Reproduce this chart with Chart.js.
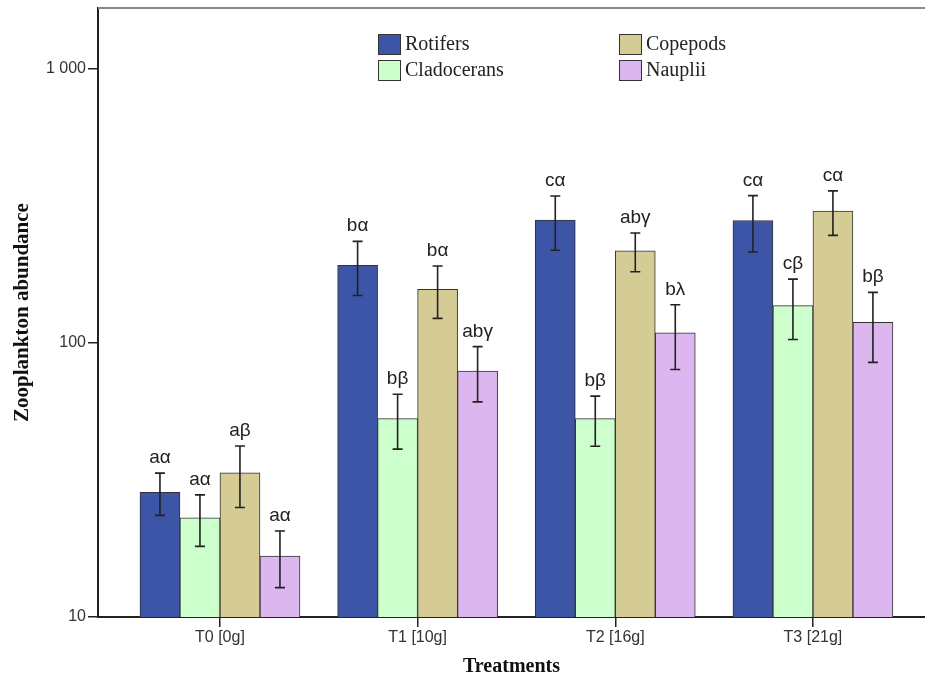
<!DOCTYPE html>
<html>
<head>
<meta charset="utf-8">
<script src="https://cdn.jsdelivr.net/npm/chart.js@4"></script>
<style>
body{margin:0;background:#fff;}
#wrap{width:925px;height:679px;position:relative;}
</style>
</head>
<body>
<div id="wrap"><canvas id="chart"></canvas></div>
<script>
const treatments=["T0 [0g]","T1 [10g]","T2 [16g]","T3 [21g]"];
const seriesNames=["Rotifers","Cladocerans","Copepods","Nauplii"];

const rotifers=[28.5,192,281,280];
const cladocerans=[23,53,53,137];
const copepods=[33.6,157,217,303];
const nauplii=[16.7,79,109,119];

const rotifersErr=[5,43,63,65];
const cladoceransErr=[4.9,12,11,34];
const copepodsErr=[8.5,34,35,56];
const naupliiErr=[3.9,18,29,34];

const rotifersTags=["aα","bα","cα","cα"];
const cladoceransTags=["aα","bβ","bβ","cβ"];
const copepodsTags=["aβ","bα","abγ","cα"];
const naupliiTags=["aα","abγ","bλ","bβ"];

const yTicks=[10,100,1000];
const yTickLabels=["10","100","1 000"];

const colors=["#3c55a6","#ccffcc","#d4cc94","#dcb6ee"];

const values=[rotifers,cladocerans,copepods,nauplii];
const errors=[rotifersErr,cladoceransErr,copepodsErr,naupliiErr];
const tags=[rotifersTags,cladoceransTags,copepodsTags,naupliiTags];

const sans="'Liberation Sans', Arial, sans-serif";
const serif="'Liberation Serif', 'Times New Roman', serif";

const errorBars={
    id:"errorBars",
    afterDatasetsDraw(chart){
        const ctx=chart.ctx;
        const y=chart.scales.y;
        ctx.save();
        ctx.strokeStyle="#222";
        ctx.lineWidth=1.6;
        ctx.fillStyle="#222";
        ctx.font="19px "+sans;
        ctx.textAlign="center";
        ctx.textBaseline="alphabetic";
        chart.data.datasets.forEach((ds,di)=>{
            const meta=chart.getDatasetMeta(di);
            meta.data.forEach((bar,i)=>{
                const v=values[di][i];
                const e=errors[di][i];
                const top=y.getPixelForValue(v+e);
                const bot=y.getPixelForValue(v-e);
                const x=bar.x;
                ctx.beginPath();
                ctx.moveTo(x,top);
                ctx.lineTo(x,bot);
                ctx.moveTo(x-5,top);
                ctx.lineTo(x+5,top);
                ctx.moveTo(x-5,bot);
                ctx.lineTo(x+5,bot);
                ctx.stroke();
                ctx.fillText(tags[di][i],x,top-10);
            });
        });
        ctx.restore();
    }
};

const frameAndLegend={
    id:"frameAndLegend",
    afterDraw(chart){
        const ctx=chart.ctx;
        const a=chart.chartArea;
        ctx.save();
        ctx.strokeStyle="#888";
        ctx.lineWidth=2;
        ctx.beginPath();
        ctx.moveTo(a.left,a.top);
        ctx.lineTo(a.right,a.top);
        ctx.stroke();
        ctx.font="20px "+serif;
        ctx.textBaseline="middle";
        ctx.textAlign="left";
        chart.data.datasets.forEach((ds,di)=>{
            const col=Math.floor(di/2);
            const row=di%2;
            const bx=a.left+280+col*241;
            const by=a.top+26+row*26;
            ctx.fillStyle=ds.backgroundColor;
            ctx.fillRect(bx,by,23,21);
            ctx.strokeStyle="#333";
            ctx.lineWidth=1;
            ctx.strokeRect(bx+0.5,by+0.5,22,20);
            ctx.fillStyle="#222";
            ctx.fillText(ds.label,bx+27,by+11);
        });
        ctx.restore();
    }
};

new Chart(document.getElementById("chart"),{
    type:"bar",
    data:{
        datasets:seriesNames.map((name,di)=>({
            label:name,
            data:values[di].map((v,i)=>({x:i,y:v})),
            backgroundColor:colors[di],
            borderColor:"#333",
            borderWidth:1,
            barThickness:40
        }))
    },
    options:{
        responsive:true,
        maintainAspectRatio:false,
        animation:false,
        layout:{
            padding:{top:8,right:0,left:0,bottom:0}
        },
        plugins:{
            legend:{display:false},
            tooltip:{enabled:false}
        },
        scales:{
            x:{
                type:"linear",
                offset:false,
                min:-0.617,
                max:3.567,
                afterBuildTicks:s=>{
                    s.ticks=treatments.map((t,i)=>({value:i}));
                },
                afterFit:s=>{
                    s.height=62;
                    s.paddingLeft=0;
                    s.paddingRight=0;
                },
                ticks:{
                    callback:v=>treatments[v],
                    font:{family:sans,size:16},
                    color:"#333",
                    padding:1,
                    maxRotation:0
                },
                grid:{
                    offset:false,
                    drawOnChartArea:false,
                    drawTicks:true,
                    tickLength:10,
                    color:"#222",
                    lineWidth:1.5
                },
                border:{color:"#222",width:2},
                title:{
                    display:true,
                    text:"Treatments",
                    font:{family:serif,size:20,weight:"bold"},
                    color:"#111",
                    padding:{top:0,bottom:0}
                }
            },
            y:{
                type:"logarithmic",
                min:10,
                max:1670,
                afterBuildTicks:s=>{
                    s.ticks=yTicks.map(v=>({value:v}));
                },
                afterFit:s=>{
                    s.width=98;
                    s.paddingTop=0;
                    s.paddingBottom=0;
                },
                ticks:{
                    callback:(v)=>yTickLabels[yTicks.indexOf(v)],
                    font:{family:sans,size:16},
                    color:"#333",
                    padding:2
                },
                grid:{
                    drawOnChartArea:false,
                    drawTicks:true,
                    tickLength:10,
                    color:"#222",
                    lineWidth:1.5
                },
                border:{color:"#222",width:2},
                title:{
                    display:true,
                    text:"Zooplankton abundance",
                    font:{family:serif,size:21,weight:"bold"},
                    color:"#111",
                    padding:{top:10,bottom:0}
                }
            }
        }
    },
    plugins:[errorBars,frameAndLegend]
});
</script>
</body>
</html>
